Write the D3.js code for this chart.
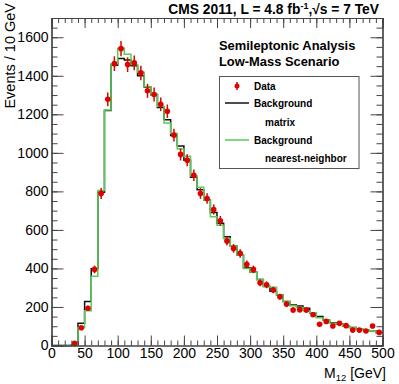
<!DOCTYPE html>
<html>
<head>
<meta charset="utf-8">
<script src="https://cdn.jsdelivr.net/npm/d3@7"></script>
<style>
body { margin: 0; background: #fff; }
svg { font-family: "Liberation Sans", Arial, sans-serif; }
</style>
</head>
<body>
<script>
// 10 GeV bins, lower edges 0..490
var binLow = d3.range(0, 500, 10)

var bgMatrix = [0, 0, 0, 3, 115, 228, 398, 795, 1220, 1455,
                1490, 1482, 1452, 1400, 1342, 1302, 1236, 1172, 1090, 1035,
                962, 874, 808, 755, 690, 634, 565, 516, 470, 404,
                382, 343, 306, 282, 262, 228, 210, 205, 194, 170,
                150, 132, 118, 111, 101, 94, 87, 82, 77, 68]

var bgNearest = [0, 0, 0, 0, 92, 180, 360, 805, 1222, 1462,
                 1543, 1512, 1458, 1418, 1345, 1305, 1242, 1155, 1100, 1020,
                 982, 880, 822, 755, 668, 624, 556, 516, 470, 400,
                 382, 343, 308, 302, 262, 228, 206, 197, 180, 170,
                 144, 132, 115, 111, 101, 94, 87, 82, 77, 66]

var dataX = [35, 45, 55, 65, 75, 85, 95, 105, 115, 125, 135, 145, 155, 165, 175,
             185, 195, 205, 215, 225, 235, 245, 255, 265, 275, 285, 295, 305,
             315, 325, 335, 345, 355, 365, 375, 385, 395, 405, 415, 425, 435,
             445, 455, 465, 475, 485, 495]
var dataY = [11, 92, 193, 395, 789, 1278, 1463, 1541, 1458, 1467, 1415, 1322, 1303, 1252, 1216,
             1092, 992, 962, 884, 789, 763, 706, 647, 542, 504, 478, 421, 395,
             326, 315, 288, 253, 215, 184, 186, 184, 160, 110, 125, 101, 115,
             103, 80, 80, 75, 101, 68]

var xMajor = d3.range(0, 501, 50)
var xMinor = d3.range(0, 501, 10)
var yMajor = d3.range(0, 1601, 200)
var yMinor = d3.range(0, 1701, 50)

var screen = {width: 399, height: 384}
var frame = {left: 51.5, right: 382.5, top: 18, bottom: 345.5}

var xScale = d3.scaleLinear().domain([0, 500]).range([frame.left, frame.right])
var yScale = d3.scaleLinear().domain([0, 1700]).range([frame.bottom, frame.top])

var svg = d3.select("body").append("svg")
    .attr("width", screen.width)
    .attr("height", screen.height)

var axisColor = "#444"

// histograms as step lines
var stepLine = d3.line()
    .x(function(d) { return xScale(d[0]) })
    .y(function(d) { return yScale(d[1]) })
    .curve(d3.curveStepAfter)

var histPoints = function(vals) {
    var pts = binLow.map(function(b, i) { return [b, vals[i]] })
    pts.push([500, vals[vals.length - 1]])
    return pts
}

svg.append("path")
    .attr("d", stepLine(histPoints(bgMatrix)))
    .attr("fill", "none")
    .attr("stroke", "#111")
    .attr("stroke-width", 1.5)

svg.append("path")
    .attr("d", stepLine(histPoints(bgNearest)))
    .attr("fill", "none")
    .attr("stroke", "#55cc55")
    .attr("stroke-width", 1.5)

// data with poisson errors
var pts = svg.append("g").selectAll("g")
    .data(dataX.map(function(x, i) { return {x: x, y: dataY[i]} }))
    .enter().append("g")

pts.append("line")
    .attr("x1", function(d) { return xScale(d.x) })
    .attr("x2", function(d) { return xScale(d.x) })
    .attr("y1", function(d) { return yScale(d.y + Math.sqrt(d.y)) })
    .attr("y2", function(d) { return yScale(Math.max(0, d.y - Math.sqrt(d.y))) })
    .attr("stroke", "#e00000")
    .attr("stroke-width", 1.5)

pts.append("circle")
    .attr("cx", function(d) { return xScale(d.x) })
    .attr("cy", function(d) { return yScale(d.y) })
    .attr("r", 2.8)
    .attr("fill", "#e00000")

// axes, ROOT style ticks inside
var drawAxis = function(axis, tx, ty, labels) {
    var g = svg.append("g")
        .attr("transform", "translate(" + tx + "," + ty + ")")
        .call(axis)
    g.select(".domain").attr("stroke", axisColor).attr("stroke-width", 1.2)
    g.selectAll(".tick line").attr("stroke", axisColor)
    g.selectAll(".tick text").attr("font-size", 14).attr("fill", "#000")
    if (!labels) g.selectAll(".tick text").remove()
    return g
}

drawAxis(d3.axisBottom(xScale).tickValues(xMinor).tickSize(-5).tickFormat(""), 0, frame.bottom, false)
drawAxis(d3.axisBottom(xScale).tickValues(xMajor).tickSize(-10).tickPadding(3).tickFormat(d3.format("d")), 0, frame.bottom, true)
drawAxis(d3.axisTop(xScale).tickValues(xMinor).tickSize(-5).tickFormat(""), 0, frame.top, false)
drawAxis(d3.axisTop(xScale).tickValues(xMajor).tickSize(-10).tickFormat(""), 0, frame.top, false)

drawAxis(d3.axisLeft(yScale).tickValues(yMinor).tickSize(-6).tickFormat(""), frame.left, 0, false)
drawAxis(d3.axisLeft(yScale).tickValues(yMajor).tickSize(-12).tickPadding(3).tickFormat(d3.format("d")), frame.left, 0, true)
drawAxis(d3.axisRight(yScale).tickValues(yMinor).tickSize(-6).tickFormat(""), frame.right, 0, false)
drawAxis(d3.axisRight(yScale).tickValues(yMajor).tickSize(-12).tickFormat(""), frame.right, 0, false)

// axis titles
var xt = svg.append("text")
    .attr("x", 386)
    .attr("y", 378)
    .attr("text-anchor", "end")
    .attr("font-size", 14)
xt.append("tspan").text("M")
xt.append("tspan").attr("font-size", 9.5).attr("dy", 3).text("12")
xt.append("tspan").attr("dy", -3).text(" [GeV]")

svg.append("text")
    .attr("transform", "translate(15,3) rotate(-90)")
    .attr("text-anchor", "end")
    .attr("font-size", 14.5)
    .text("Events / 10 GeV")

// header
var hdr = svg.append("text")
    .attr("x", 379)
    .attr("y", 14)
    .attr("text-anchor", "end")
    .attr("font-size", 13.8)
    .attr("font-weight", "bold")
hdr.append("tspan").text("CMS 2011, L = 4.8 fb")
hdr.append("tspan").attr("font-size", 9).attr("dy", -5).text("-1")
hdr.append("tspan").attr("dy", 5).text(",\u221As = 7 TeV")

svg.append("text")
    .attr("x", 219).attr("y", 50)
    .attr("font-size", 12.9).attr("font-weight", "bold")
    .text("Semileptonic Analysis")
svg.append("text")
    .attr("x", 219).attr("y", 65.5)
    .attr("font-size", 12.9).attr("font-weight", "bold")
    .text("Low-Mass Scenario")

// legend
var leg = svg.append("g")
leg.append("rect")
    .attr("x", 219.5).attr("y", 76.5)
    .attr("width", 139.5).attr("height", 92)
    .attr("fill", "#fff")
    .attr("stroke", "#555")
    .attr("stroke-width", 1)

leg.append("line")
    .attr("x1", 237).attr("x2", 237).attr("y1", 82).attr("y2", 90)
    .attr("stroke", "#e00000").attr("stroke-width", 1.5)
leg.append("circle")
    .attr("cx", 237).attr("cy", 86).attr("r", 2.5).attr("fill", "#e00000")
leg.append("line")
    .attr("x1", 225).attr("x2", 249).attr("y1", 103).attr("y2", 103)
    .attr("stroke", "#111").attr("stroke-width", 1.5)
leg.append("line")
    .attr("x1", 225).attr("x2", 249).attr("y1", 140).attr("y2", 140)
    .attr("stroke", "#55cc55").attr("stroke-width", 1.5)

var legText = [
    {t: "Data", x: 254, y: 90},
    {t: "Background", x: 254, y: 107},
    {t: "matrix", x: 265, y: 126},
    {t: "Background", x: 254, y: 144},
    {t: "nearest-neighbor", x: 265, y: 162}
]
leg.selectAll("text.lg")
    .data(legText)
    .enter().append("text")
    .attr("class", "lg")
    .attr("x", function(d) { return d.x })
    .attr("y", function(d) { return d.y })
    .attr("font-size", 10)
    .attr("font-weight", "bold")
    .text(function(d) { return d.t })
</script>
</body>
</html>
